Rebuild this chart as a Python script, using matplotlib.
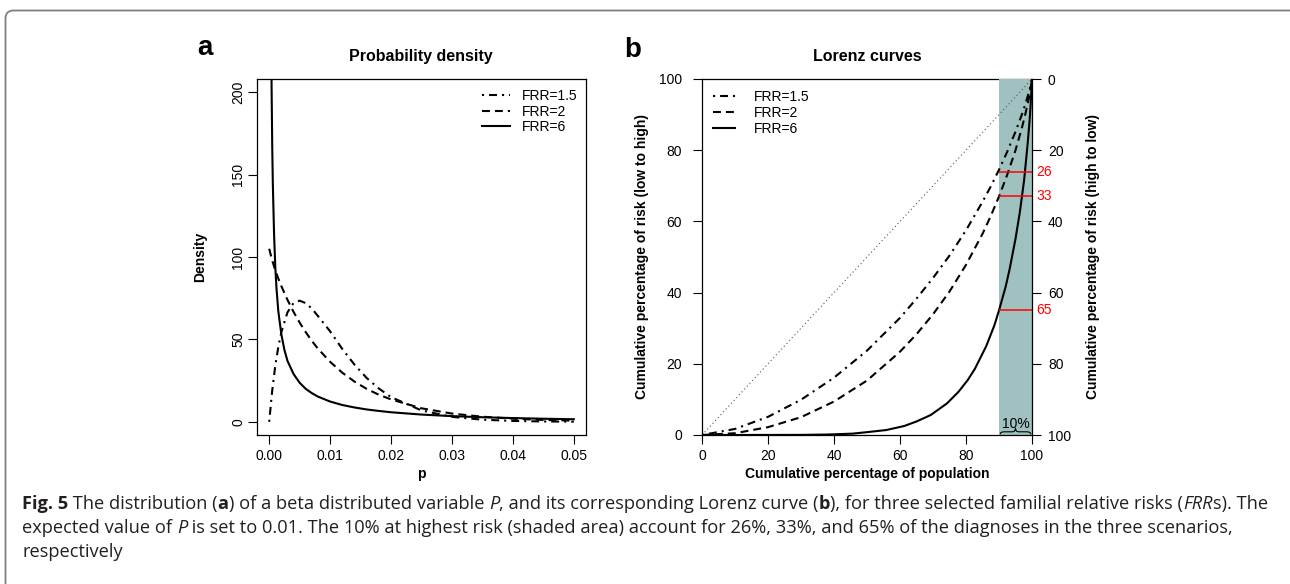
import matplotlib.pyplot as plt
from matplotlib.patches import FancyBboxPatch, PathPatch
from matplotlib.path import Path
from matplotlib.transforms import IdentityTransform

# ---- data ----
# panel a: beta densities
p_15 = [0, 0.0005, 0.001, 0.0015, 0.002, 0.003, 0.004, 0.005, 0.006, 0.007, 0.008,
        0.010, 0.012, 0.014, 0.016, 0.018, 0.020, 0.025, 0.030, 0.035, 0.040, 0.045, 0.050]
dens_15 = [0, 19, 34, 45.5, 54.5, 66.4, 72.1, 73.5, 72.0, 68.7, 64.2,
           54.9, 44.2, 34.7, 26.6, 20.2, 15.0, 6.9, 3.0, 1.3, 0.54, 0.22, 0.09]
p_2 = p_15
dens_2 = [105, 97.9, 92.0, 86.9, 82.3, 74.0, 66.7, 60.2, 54.4, 49.1, 44.4,
          36.4, 29.8, 24.4, 20.0, 16.4, 13.6, 8.2, 5.0, 3.1, 1.9, 1.15, 0.70]
p_6 = [0.0003, 0.0004, 0.0005, 0.0006, 0.0008, 0.001, 0.0012, 0.0015, 0.002, 0.0025,
       0.003, 0.004, 0.005, 0.006, 0.007, 0.008, 0.010, 0.012, 0.014, 0.016, 0.018,
       0.020, 0.025, 0.030, 0.035, 0.040, 0.045, 0.050]
dens_6 = [256, 201, 167, 144, 114, 94, 81, 67, 53, 43.6,
          37, 29, 23.7, 20.0, 17.4, 15.3, 12.3, 10.2, 8.7, 7.5, 6.6,
          5.8, 4.4, 3.46, 2.78, 2.27, 1.87, 1.57]

# panel b: Lorenz curves (% population, % risk)
pop_15 = [0, 10, 20, 30, 40, 50, 60, 65, 70, 75, 80, 85, 87.5, 90, 92.5, 95, 97, 98,
          99, 99.5, 100]
lor_15 = [0, 1.7, 5.1, 9.9, 16.1, 23.7, 32.9, 38.3, 44.1, 50.4, 57.5, 65.5, 69.8, 74.5,
          79.6, 85.2, 90.2, 93.0, 96.1, 97.9, 100]
pop_2 = pop_15
lor_2 = [0, 0.5, 2.2, 5.0, 9.4, 15.3, 23.4, 28.3, 33.9, 40.3, 47.8, 56.5, 61.5, 67.0,
         73.1, 80.0, 86.5, 90.2, 94.4, 96.9, 100]
pop_6 = [0, 29.6, 38, 45.6, 50, 55.8, 61.3, 65, 69.3, 74.2, 77.7, 80.5, 82.7, 86.1,
         88.6, 90, 92.0, 93.2, 95.0, 96.3, 97.6, 98.7, 99.3, 99.6, 99.85, 100]
lor_6 = [0, 0.03, 0.13, 0.38, 0.8, 1.39, 2.53, 3.8, 5.61, 8.85, 12.1, 15.4, 18.6, 24.9,
         30.8, 35, 41.6, 46.5, 55.1, 62.5, 71.5, 82.0, 88.7, 93.0, 97.3, 100]
equality = [0, 100]

labels = ["FRR=1.5", "FRR=2", "FRR=6"]
top_share = [26, 33, 65]          # % of risk held by the top 10%
shade_from, shade_to = 90, 100

W, H = 1290, 584
plt.rcParams['font.family'] = ['Liberation Sans', 'DejaVu Sans']
CAP_FONT = ['Open Sans', 'DejaVu Sans']

DOTDASH = (1, 2.4, 3.8, 2.4)
DASH = (3.8, 2.4)
LW = 1.5

fig = plt.figure(figsize=(W / 100, H / 100), dpi=100)


def fx(px):
    return px / W


def fy(py):
    return 1 - py / H


def style_axes(ax):
    for s in ax.spines.values():
        s.set_linewidth(0.9)
    ax.tick_params(direction='out', length=6.5, width=0.8, labelsize=10, colors='black')


# ---------- panel a ----------
ax1 = fig.add_axes([fx(257), fy(435), fx(586) - fx(257), fy(79) - fy(435)])
style_axes(ax1)
l1, = ax1.plot(p_15, dens_15, color='black', lw=LW, dashes=DOTDASH)
l2, = ax1.plot(p_2, dens_2, color='black', lw=LW, dashes=DASH)
l3, = ax1.plot(p_6, dens_6, color='black', lw=LW)
ax1.set_xlim(-0.002, 0.052)
ax1.set_ylim(-8, 208)
ax1.set_xticks([0, 0.01, 0.02, 0.03, 0.04, 0.05])
ax1.set_xticklabels(['0.00', '0.01', '0.02', '0.03', '0.04', '0.05'])
ax1.set_yticks([0, 50, 100, 150, 200])
ax1.tick_params(axis='x', pad=3.6)
ax1.tick_params(axis='y', pad=2, labelrotation=90)
for lab in ax1.get_yticklabels():
    lab.set_va('center')
ax1.legend([l1, l2, l3], labels, loc='upper left', bbox_to_anchor=(fx(482), fy(89)),
           bbox_transform=fig.transFigure, frameon=False, borderpad=0, borderaxespad=0,
           handlelength=2.0, handletextpad=0.9, labelspacing=0.12, fontsize=10)

fig.text(fx(205), fy(55), 'a', fontsize=20, fontweight='bold', ha='center', va='baseline')
fig.text(fx(421), fy(61), 'Probability density', fontsize=11.5, fontweight='bold',
         ha='center', va='baseline')
fig.text(fx(200), fy(257), 'Density', fontsize=10, fontweight='bold', rotation=90,
         ha='center', va='center')
fig.text(fx(421), fy(474), 'p', fontsize=10, fontweight='bold', ha='center', va='center')

# ---------- panel b ----------
ax2 = fig.add_axes([fx(702), fy(435), fx(1032) - fx(702), fy(79) - fy(435)])
style_axes(ax2)
ax2.axvspan(shade_from, shade_to, color='#9fc1c0', lw=0, zorder=2.6)
ax2.plot(equality, equality, color='#555555', lw=0.8, dashes=(1, 2.5), zorder=3)
m1, = ax2.plot(pop_15, lor_15, color='black', lw=LW, dashes=DOTDASH, zorder=3)
m2, = ax2.plot(pop_2, lor_2, color='black', lw=LW, dashes=DASH, zorder=3)
m3, = ax2.plot(pop_6, lor_6, color='black', lw=LW, zorder=3)
ax2.set_xlim(0, 100)
ax2.set_ylim(0, 100)
ax2.set_xticks(range(0, 101, 20))
ax2.set_yticks(range(0, 101, 20))
ax2.tick_params(axis='x', pad=3.6)
ax2.tick_params(axis='y', pad=8)
ax2.spines['right'].set_visible(False)
for s in ('left', 'bottom'):
    ax2.spines[s].set_zorder(3.5)

for share in top_share:
    level = 100 - share
    ax2.hlines(level, shade_from, shade_to, color='red', lw=1.1, zorder=3.2)
    ax2.annotate(str(share), xy=(shade_to, level), xytext=(4, 0), textcoords='offset pixels',
                 color='red', fontsize=10, ha='left', va='center', annotation_clip=False)

# curly brace marking the top 10%
brace = Path(
    [(90.4, 0.2), (90.4, 0.8), (90.9, 0.9), (92.0, 0.9), (94.0, 0.9),
     (94.7, 0.9), (95.0, 1.3), (95.0, 2.0),
     (95.0, 1.3), (95.3, 0.9), (96.0, 0.9), (98.0, 0.9),
     (99.1, 0.9), (99.6, 0.8), (99.6, 0.2)],
    [Path.MOVETO, Path.CURVE4, Path.CURVE4, Path.CURVE4, Path.LINETO,
     Path.CURVE4, Path.CURVE4, Path.CURVE4,
     Path.CURVE4, Path.CURVE4, Path.CURVE4, Path.LINETO,
     Path.CURVE4, Path.CURVE4, Path.CURVE4])
ax2.add_patch(PathPatch(brace, fill=False, edgecolor='black', lw=0.8, zorder=4))
ax2.text((shade_from + shade_to) / 2, 2.1, '10%', fontsize=10, ha='center', va='baseline',
         zorder=4)

ax2.legend([m1, m2, m3], labels, loc='upper left', bbox_to_anchor=(fx(713), fy(90)),
           bbox_transform=fig.transFigure, frameon=False, borderpad=0, borderaxespad=0,
           handlelength=1.6, handletextpad=1.35, labelspacing=0.14, fontsize=10)

ax2r = ax2.twinx()
style_axes(ax2r)
for s in ('left', 'top', 'bottom'):
    ax2r.spines[s].set_visible(False)
ax2r.set_ylim(100, 0)
ax2r.set_yticks(range(0, 101, 20))
ax2r.tick_params(axis='y', pad=5)

fig.text(fx(633), fy(57), 'b', fontsize=20, fontweight='bold', ha='center', va='baseline')
fig.text(fx(867), fy(61), 'Lorenz curves', fontsize=11.5, fontweight='bold',
         ha='center', va='baseline')
fig.text(fx(642), fy(257), 'Cumulative percentage of risk (low to high)', fontsize=10,
         fontweight='bold', rotation=90, ha='center', va='center')
fig.text(fx(1093), fy(257), 'Cumulative percentage of risk (high to low)', fontsize=10,
         fontweight='bold', rotation=90, ha='center', va='center')
fig.text(fx(867), fy(474), 'Cumulative percentage of population', fontsize=10,
         fontweight='bold', ha='center', va='center')

# ---------- frame and caption ----------
fig.add_artist(FancyBboxPatch((5.5, -50), 1400, H - 10.5 + 50,
                              boxstyle='round,pad=0,rounding_size=8',
                              transform=IdentityTransform(), fill=False,
                              edgecolor='#7f7f7f', lw=1.3))

renderer = fig.canvas.get_renderer()


def advance(s, weight, style, size):
    kw = dict(fontsize=size, fontweight=weight, fontstyle=style, family=CAP_FONT)
    t1 = fig.text(0, 0, s + '|', **kw)
    t2 = fig.text(0, 0, '|', **kw)
    w = t1.get_window_extent(renderer).width - t2.get_window_extent(renderer).width
    t1.remove()
    t2.remove()
    return w


N, B, I = ('normal', 'normal'), ('bold', 'normal'), ('normal', 'italic')
caption = [
    [("Fig. 5", B), (" The distribution (", N), ("a", B),
     (") of a beta distributed variable ", N), ("P", I),
     (", and its corresponding Lorenz curve (", N), ("b", B),
     ("), for three selected familial relative risks (", N), ("FRR", I), ("s). The", N)],
    [("expected value of ", N), ("P", I),
     (" is set to 0.01. The 10% at highest risk (shaded area) account for 26%, 33%, "
      "and 65% of the diagnoses in the three scenarios,", N)],
    [("respectively", N)],
]

base = 12
w0 = sum(advance(s, st[0], st[1], base) for s, st in caption[0])
size = base * 1241 / w0
for row, pieces in enumerate(caption):
    x = 22
    y = 509 + 24 * row
    for s, st in pieces:
        fig.text(fx(x), fy(y), s, fontsize=size, fontweight=st[0], fontstyle=st[1],
                 family=CAP_FONT, color='#231f20', ha='left', va='baseline')
        x += advance(s, st[0], st[1], size)

fig.savefig('out.png', dpi=100)
